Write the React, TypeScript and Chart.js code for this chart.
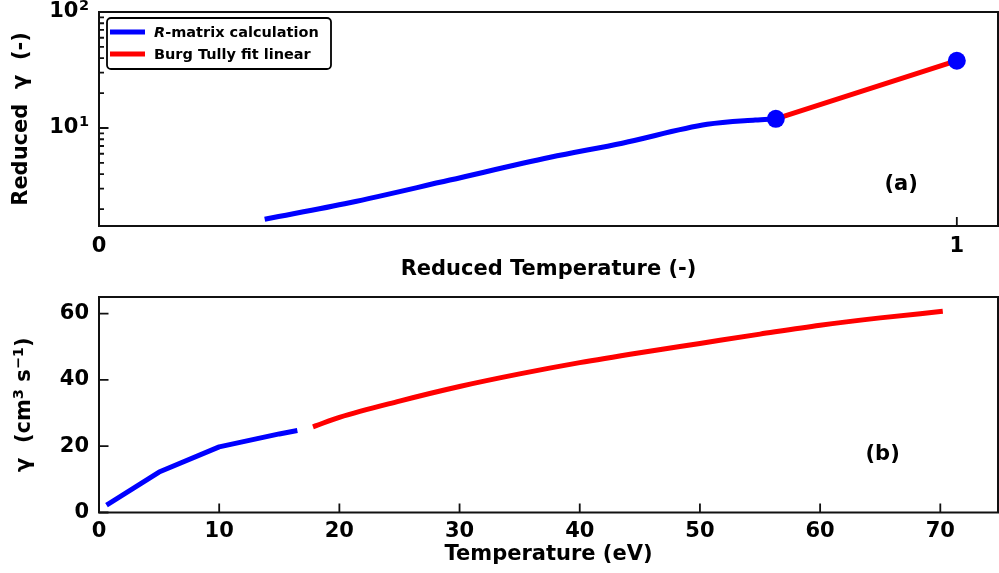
import React, { useEffect, useRef } from "react";
import { Chart, registerables } from "chart.js";

Chart.register(...registerables);

const FONT_FAMILY = "'DejaVu Sans', 'Liberation Sans', sans-serif";

// ---------- Panel (a) data ----------
const reducedTempRM = [0.196, 0.292, 0.409, 0.526, 0.61, 0.709, 0.765, 0.789];
const reducedGammaRM = [1.65, 2.27, 3.56, 5.59, 7.4, 10.76, 11.72, 12.0];
const reducedTempBT = [0.789, 1.0];
const reducedGammaBT = [12.0, 38.0];
const markerTemp = [0.789, 1.0];
const markerGamma = [12.0, 38.0];
const xTicksA = [0, 1];
const xTickLabelsA = ["0", "1"];
const yTicksA = [10, 100];
const yTickBaseA = "10";
const yTickExpA = ["1", "2"];
const yMinorA = [2, 3, 4, 5, 6, 7, 8, 9, 20, 30, 40, 50, 60, 70, 80, 90];
const annotationA = { x: 0.935, y: 3.23, text: "(a)" };

// ---------- Panel (b) data ----------
const tempRM = [0.8, 5, 10, 15, 16.3];
const gammaRM = [2.6, 12.2, 19.8, 23.7, 24.6];
const tempBT = [18, 20, 25, 30, 35, 40, 45, 50, 55, 60, 65, 70];
const gammaBT = [26.1, 28.7, 33.6, 38.0, 41.8, 45.2, 48.2, 51.0, 53.8, 56.5, 58.7, 60.6];
const xTicksB = [0, 10, 20, 30, 40, 50, 60, 70];
const yTicksB = [0, 20, 40, 60];
const annotationB = { x: 65.2, y: 17.4, text: "(b)" };
// y-title of panel (b): [text, isSuperscript]
const yTitleB: [string, boolean][] = [
  ["\u03B3  (cm", false],
  ["3", true],
  [" s", false],
  ["\u22121", true],
  [")", false],
];

const LEGEND_LABELS = ["R-matrix calculation", "Burg Tully fit linear"];
const BLUE = "#0000ff";
const RED = "#ff0000";
const AXIS = "#111111";
const FS = 21;

const pts = (xs: number[], ys: number[]) => xs.map((x, i) => ({ x, y: ys[i] }));

const framePlugin = {
  id: "frame",
  afterDatasetsDraw(chart: any, _args: any, opts: any) {
    const { ctx, chartArea: a } = chart;
    const xs = chart.scales.x;
    const ys = chart.scales.y;
    ctx.save();
    ctx.strokeStyle = AXIS;
    ctx.lineWidth = 2;
    ctx.strokeRect(a.left, a.top, a.right - a.left, a.bottom - a.top);
    ctx.lineWidth = 1.8;
    ctx.beginPath();
    for (const v of opts.xMajor || []) {
      const p = xs.getPixelForValue(v);
      ctx.moveTo(p, a.bottom);
      ctx.lineTo(p, a.bottom - 9);
    }
    for (const v of opts.yMajor || []) {
      const p = ys.getPixelForValue(v);
      ctx.moveTo(a.left, p);
      ctx.lineTo(a.left + 9.5, p);
    }
    for (const v of opts.yMinor || []) {
      const p = ys.getPixelForValue(v);
      ctx.moveTo(a.left, p);
      ctx.lineTo(a.left + 5, p);
    }
    ctx.stroke();

    ctx.fillStyle = "#000";

    // power-of-ten tick labels
    if (opts.powLabels) {
      const { values, base, exps } = opts.powLabels;
      values.forEach((v: number, i: number) => {
        const p = ys.getPixelForValue(v);
        const xr = a.left - 10;
        ctx.textBaseline = "middle";
        ctx.textAlign = "right";
        ctx.font = `bold 14.5px ${FONT_FAMILY}`;
        const ew = ctx.measureText(exps[i]).width;
        ctx.fillText(exps[i], xr, p - 5.5);
        ctx.font = `bold ${FS}px ${FONT_FAMILY}`;
        ctx.fillText(base, xr - ew - 0.5, p);
      });
    }

    // rotated y title with superscripts
    if (opts.yTitle) {
      const parts: [string, boolean][] = opts.yTitle;
      const fontN = `bold ${FS}px ${FONT_FAMILY}`;
      const fontS = `bold 14.5px ${FONT_FAMILY}`;
      let total = 0;
      const widths = parts.map(([t, sup]) => {
        ctx.font = sup ? fontS : fontN;
        const w = ctx.measureText(t).width;
        total += w;
        return w;
      });
      const cy = (a.top + a.bottom) / 2;
      ctx.save();
      ctx.translate(opts.yTitleX, cy);
      ctx.rotate(-Math.PI / 2);
      ctx.textAlign = "left";
      ctx.textBaseline = "middle";
      let x = -total / 2;
      parts.forEach(([t, sup], i) => {
        ctx.font = sup ? fontS : fontN;
        ctx.fillText(t, x, sup ? -6 : 0);
        x += widths[i];
      });
      ctx.restore();
    }

    if (opts.annotation) {
      const an = opts.annotation;
      ctx.font = `bold ${FS}px ${FONT_FAMILY}`;
      ctx.textAlign = "center";
      ctx.textBaseline = "middle";
      ctx.fillText(an.text, xs.getPixelForValue(an.x), ys.getPixelForValue(an.y));
    }

    if (opts.legend) {
      const L = a.left + 8;
      const T = a.top + 6;
      const W = 224;
      const H = 51;
      const r = 4;
      ctx.fillStyle = "#ffffff";
      ctx.strokeStyle = "#000";
      ctx.lineWidth = 1.8;
      ctx.beginPath();
      ctx.moveTo(L + r, T);
      ctx.lineTo(L + W - r, T);
      ctx.arcTo(L + W, T, L + W, T + r, r);
      ctx.lineTo(L + W, T + H - r);
      ctx.arcTo(L + W, T + H, L + W - r, T + H, r);
      ctx.lineTo(L + r, T + H);
      ctx.arcTo(L, T + H, L, T + H - r, r);
      ctx.lineTo(L, T + r);
      ctx.arcTo(L, T, L + r, T, r);
      ctx.closePath();
      ctx.fill();
      ctx.stroke();
      const colors = [BLUE, RED];
      const rowsY = [T + 14, T + 36];
      ctx.lineWidth = 5;
      ctx.lineCap = "butt";
      ctx.textBaseline = "middle";
      ctx.textAlign = "left";
      opts.legend.forEach((lab: string, i: number) => {
        ctx.strokeStyle = colors[i];
        ctx.beginPath();
        ctx.moveTo(L + 3, rowsY[i]);
        ctx.lineTo(L + 38, rowsY[i]);
        ctx.stroke();
        ctx.fillStyle = "#000";
        let tx = L + 47;
        if (lab.startsWith("R-")) {
          ctx.font = `italic bold 14.5px ${FONT_FAMILY}`;
          ctx.fillText("R", tx, rowsY[i] + 1);
          tx += ctx.measureText("R").width;
          ctx.font = `bold 14.5px ${FONT_FAMILY}`;
          ctx.fillText(lab.slice(1), tx, rowsY[i] + 1);
        } else {
          ctx.font = `bold 14.5px ${FONT_FAMILY}`;
          ctx.fillText(lab, tx, rowsY[i] + 1);
        }
      });
    }
    ctx.restore();
  },
};

const tickFont = { family: FONT_FAMILY, size: FS, weight: "bold" as const };
const titleFont = { family: FONT_FAMILY, size: FS, weight: "bold" as const };

const fixBox = (w?: number, h?: number) => (s: any) => {
  if (w !== undefined) s.width = w;
  if (h !== undefined) s.height = h;
  s.paddingLeft = 0;
  s.paddingRight = 0;
  s.paddingTop = 0;
  s.paddingBottom = 0;
};

const lineDs = (label: string, data: any[], color: string, order: number, smooth: boolean) => ({
  label,
  data,
  showLine: true,
  borderColor: color,
  borderWidth: 5,
  borderCapStyle: "square",
  borderJoinStyle: "round",
  cubicInterpolationMode: smooth ? "monotone" : "default",
  tension: 0,
  pointRadius: 0,
  order,
});

function topConfig(): any {
  return {
    type: "scatter",
    data: {
      datasets: [
        {
          label: "markers",
          data: pts(markerTemp, markerGamma),
          pointRadius: 9,
          pointBackgroundColor: BLUE,
          pointBorderWidth: 0,
          showLine: false,
          order: 0,
        },
        lineDs(LEGEND_LABELS[0], pts(reducedTempRM, reducedGammaRM), BLUE, 2, true),
        lineDs(LEGEND_LABELS[1], pts(reducedTempBT, reducedGammaBT), RED, 1, false),
      ],
    },
    options: {
      animation: false,
      responsive: false,
      events: [],
      layout: { autoPadding: false, padding: { top: 12, right: 1, left: 0, bottom: 0 } },
      plugins: {
        legend: { display: false },
        tooltip: { enabled: false },
        frame: {
          xMajor: xTicksA,
          yMajor: yTicksA,
          yMinor: yMinorA,
          annotation: annotationA,
          legend: LEGEND_LABELS,
          powLabels: { values: yTicksA, base: yTickBaseA, exps: yTickExpA },
        },
      },
      scales: {
        x: {
          type: "linear",
          min: 0,
          max: 1.048,
          afterBuildTicks: (s: any) => {
            s.ticks = xTicksA.map((v) => ({ value: v }));
          },
          afterFit: fixBox(undefined, 56),
          ticks: {
            padding: 7.5,
            font: tickFont,
            color: "#000",
            maxRotation: 0,
            autoSkip: false,
            callback: (v: number) => xTickLabelsA[xTicksA.indexOf(v)] ?? "",
          },
          grid: { display: false, drawTicks: false },
          border: { display: false },
          title: {
            display: true,
            text: "Reduced Temperature (-)",
            font: titleFont,
            color: "#000",
            padding: { top: 0, bottom: 0 },
          },
        },
        y: {
          type: "logarithmic",
          min: 1.43,
          max: 100,
          afterBuildTicks: (s: any) => {
            s.ticks = yTicksA.map((v) => ({ value: v }));
          },
          afterFit: fixBox(99, undefined),
          ticks: {
            padding: 10,
            font: tickFont,
            color: "#000",
            autoSkip: false,
            callback: () => "",
          },
          grid: { display: false, drawTicks: false },
          border: { display: false },
          title: {
            display: true,
            text: "Reduced  \u03B3  (-)",
            font: titleFont,
            color: "#000",
            padding: { top: 8.5, bottom: 0 },
          },
        },
      },
    },
    plugins: [framePlugin],
  };
}

function bottomConfig(): any {
  return {
    type: "scatter",
    data: {
      datasets: [
        lineDs(LEGEND_LABELS[0], pts(tempRM, gammaRM), BLUE, 1, false),
        lineDs(LEGEND_LABELS[1], pts(tempBT, gammaBT), RED, 0, true),
      ],
    },
    options: {
      animation: false,
      responsive: false,
      events: [],
      layout: { autoPadding: false, padding: { top: 15, right: 1, left: 0, bottom: 0 } },
      plugins: {
        legend: { display: false },
        tooltip: { enabled: false },
        frame: {
          xMajor: xTicksB,
          yMajor: yTicksB,
          annotation: annotationB,
          yTitle: yTitleB,
          yTitleX: 25,
        },
      },
      scales: {
        x: {
          type: "linear",
          min: 0,
          max: 74.8,
          afterBuildTicks: (s: any) => {
            s.ticks = xTicksB.map((v) => ({ value: v }));
          },
          afterFit: fixBox(undefined, 60.5),
          ticks: {
            padding: 6,
            font: tickFont,
            color: "#000",
            maxRotation: 0,
            autoSkip: false,
            callback: (v: number) => String(v),
          },
          grid: { display: false, drawTicks: false },
          border: { display: false },
          title: {
            display: true,
            text: "Temperature (eV)",
            font: titleFont,
            color: "#000",
            padding: { top: 0, bottom: 5.5 },
          },
        },
        y: {
          type: "linear",
          min: 0,
          max: 65,
          afterBuildTicks: (s: any) => {
            s.ticks = yTicksB.map((v) => ({ value: v }));
          },
          afterFit: fixBox(99, undefined),
          ticks: {
            padding: 10,
            font: tickFont,
            color: "#000",
            autoSkip: false,
            callback: (v: number) => String(v),
          },
          grid: { display: false, drawTicks: false },
          border: { display: false },
          title: { display: false },
        },
      },
    },
    plugins: [framePlugin],
  };
}

export default function App() {
  const topRef = useRef<HTMLCanvasElement>(null);
  const botRef = useRef<HTMLCanvasElement>(null);

  useEffect(() => {
    Chart.defaults.font.family = FONT_FAMILY;
    Chart.defaults.color = "#000";
    const c1 = new Chart(topRef.current as HTMLCanvasElement, topConfig());
    const c2 = new Chart(botRef.current as HTMLCanvasElement, bottomConfig());
    return () => {
      c1.destroy();
      c2.destroy();
    };
  }, []);

  return (
    <div
      style={{
        position: "fixed",
        left: 0,
        top: 0,
        width: 999,
        height: 573,
        background: "#ffffff",
        overflow: "hidden",
      }}
    >
      <canvas
        ref={topRef}
        width={999}
        height={282}
        style={{ position: "absolute", left: 0, top: 0, width: 999, height: 282 }}
      />
      <canvas
        ref={botRef}
        width={999}
        height={291}
        style={{ position: "absolute", left: 0, top: 282, width: 999, height: 291 }}
      />
    </div>
  );
}
